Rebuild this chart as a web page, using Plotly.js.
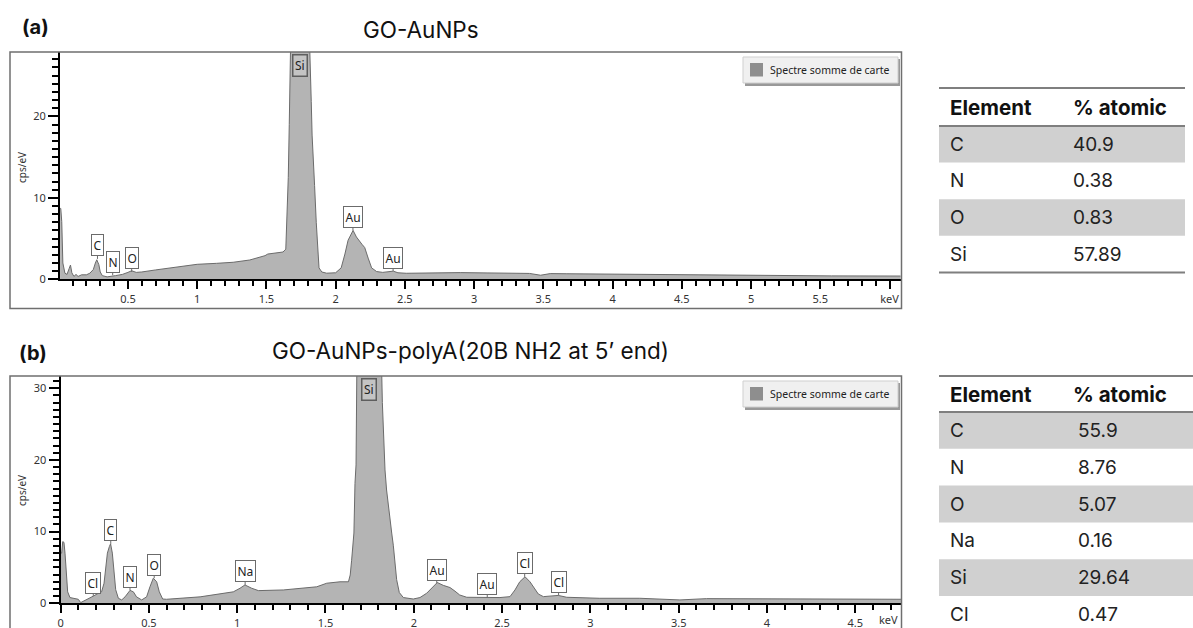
<!DOCTYPE html>
<html>
<head>
<meta charset="utf-8">
<script src="https://cdn.plot.ly/plotly-3.0.1.min.js"></script>
<style>
html,body{margin:0;padding:0;background:#fff;}
#chart{width:1193px;height:628px;}
</style>
</head>
<body>
<div id="chart"></div>
<script>
// ---------- DATA ----------
// Panel (a): GO-AuNPs spectrum (keV, cps/eV)
const energyA = [0.01,0.015,0.022,0.03,0.045,0.06,0.075,0.085,0.095,0.11,0.125,0.14,0.165,0.2,0.225,0.25,0.265,0.275,0.29,0.3,0.315,0.35,0.41,0.46,0.5,0.527,0.56,0.6,0.7,0.78,0.88,1.0,1.14,1.26,1.38,1.45,1.49,1.51,1.57,1.62,1.64,1.651,1.658,1.665,1.67,1.678,1.72,1.76,1.8,1.812,1.815,1.824,1.83,1.84,1.848,1.86,1.87,1.88,1.9,1.935,2.0,2.04,2.067,2.09,2.126,2.15,2.19,2.21,2.235,2.26,2.296,2.34,2.416,2.45,2.51,2.7,2.9,3.1,3.4,3.48,3.55,3.67,4.15,4.87,5.58,6.08];
const countsA = [8.7,8.7,7.1,2.0,0.75,0.6,1.3,1.75,0.8,0.35,0.6,0.35,0.55,0.55,0.75,1.2,2.0,2.4,1.8,0.9,0.45,0.3,0.45,0.6,0.85,1.05,0.85,0.9,1.15,1.35,1.55,1.84,1.96,2.09,2.37,2.7,2.9,3.1,3.27,3.35,3.7,8.1,12.5,19.0,21.5,32,38,40,36,30,26.7,21.8,17.7,14.8,11.5,7.0,3.4,1.4,0.9,0.75,0.8,1.4,3.1,4.8,6.0,5.2,4.3,3.9,2.6,1.4,0.95,0.85,1.0,0.8,0.74,0.8,0.82,0.78,0.72,0.5,0.7,0.68,0.6,0.5,0.42,0.4];

// Panel (b): GO-AuNPs-polyA spectrum
const energyB = [0.0,0.006,0.012,0.019,0.025,0.031,0.04,0.053,0.082,0.1,0.114,0.13,0.157,0.185,0.214,0.232,0.246,0.257,0.265,0.276,0.283,0.293,0.302,0.312,0.327,0.346,0.365,0.393,0.412,0.43,0.459,0.487,0.506,0.525,0.544,0.559,0.578,0.6,0.79,0.884,0.978,1.016,1.044,1.082,1.12,1.261,1.355,1.45,1.507,1.582,1.63,1.64,1.648,1.661,1.667,1.673,1.678,1.72,1.77,1.815,1.822,1.827,1.837,1.846,1.856,1.865,1.875,1.884,1.894,1.903,1.918,1.941,1.997,2.035,2.073,2.11,2.133,2.167,2.205,2.233,2.26,2.3,2.413,2.488,2.545,2.573,2.6,2.63,2.658,2.677,2.705,2.734,2.818,2.866,3.05,3.28,3.47,3.507,3.658,4.036,4.413,4.76];
const countsB = [7.0,7.0,8.6,8.5,7.0,4.2,1.6,0.8,0.7,0.56,0.1,0.33,0.7,1.0,1.4,1.6,2.8,5.1,7.0,7.9,8.3,7.0,4.2,1.9,0.7,0.47,0.9,1.8,1.6,0.9,0.47,0.9,2.3,3.5,3.0,1.6,0.6,0.56,0.9,1.26,1.6,2.1,2.56,2.1,1.77,1.86,2.1,2.3,2.8,3.0,3.0,3.95,6.0,9.8,16.7,19.3,34,42,44,36,28,24.7,18.6,15.8,13.5,11.9,9.8,8.1,5.6,3.3,1.5,0.8,0.6,0.8,1.4,2.3,2.9,2.5,2.2,1.7,1.16,0.84,0.84,0.8,0.93,1.86,3.0,3.7,3.0,2.3,1.3,0.93,1.1,0.84,0.7,0.7,0.56,0.47,0.65,0.65,0.56,0.56];

// Peak labels
const peakLabelsA = ["C","N","O","Au","Au"];
const peakEnergyA = [0.28,0.39,0.527,2.125,2.415];
const peakCountA  = [2.5,0.5,0.9,6.0,1.0];
const siLabelA = "Si", siEnergyA = 1.74;

const peakLabelsB = ["Cl","C","N","O","Na","Au","Au","Cl","Cl"];
const peakEnergyB = [0.185,0.284,0.393,0.53,1.045,2.13,2.416,2.628,2.82];
const peakCountB  = [1.0,8.3,1.8,3.5,2.56,2.8,0.84,3.7,1.1];
const siLabelB = "Si", siEnergyB = 1.746;

// Axis ticks
const xTickValsA = [0.5,1,1.5,2,2.5,3,3.5,4,4.5,5,5.5,6];
const xTickTextA = ["0.5","1","1.5","2","2.5","3","3.5","4","4.5","5","5.5","keV"];
const xTickValsB = [0,0.5,1,1.5,2,2.5,3,3.5,4,4.5];
const xTickTextB = ["0","0.5","1","1.5","2","2.5","3","3.5","4","4.5"];
const yTickVals = [0,10,20,30];

// Tables
const tableHeader = ["Element","% atomic"];
const tableAElements = ["C","N","O","Si"];
const tableAValues = ["40.9","0.38","0.83","57.89"];
const tableBElements = ["C","N","O","Na","Si","Cl"];
const tableBValues = ["55.9","8.76","5.07","0.16","29.64","0.47"];

const titleA = "GO-AuNPs";
const titleB = "GO-AuNPs-polyA(20B NH2 at 5\u2019 end)";
const legendName = "Spectre somme de carte";

// ---------- LAYOUT HELPERS ----------
const W = 1193, H = 628;
const X = p => p / W;
const Y = p => 1 - p / H;
const FONT = "Noto Sans, DejaVu Sans, sans-serif";
const TFONT = "Inter, Noto Sans, sans-serif";
const lineC = "#6b6b6b";

const traces = [
  {x: energyA, y: countsA, type: "scatter", mode: "lines", fill: "tozeroy",
   fillcolor: "#b4b4b4", line: {color: lineC, width: 1}, xaxis: "x", yaxis: "y",
   name: legendName, showlegend: false, hoverinfo: "skip"},
  {x: energyB, y: countsB, type: "scatter", mode: "lines", fill: "tozeroy",
   fillcolor: "#b4b4b4", line: {color: lineC, width: 1}, xaxis: "x2", yaxis: "y2",
   name: legendName, showlegend: false, hoverinfo: "skip"}
];

function xAxis(dom, range, tv, tt, anchor) {
  return {domain: dom, range: range, anchor: anchor, tickmode: "array", tickvals: tv, ticktext: tt,
    ticks: "outside", ticklen: 8, tickwidth: 2, tickcolor: "#000",
    showline: true, linecolor: "#000", linewidth: 2, showgrid: false, zeroline: false,
    tickfont: {family: FONT, size: 11, color: "#333"}, automargin: false, fixedrange: true,
    minor: {tickmode: "linear", tick0: 0, dtick: 0.1, ticks: "outside", ticklen: 5, tickwidth: 2, tickcolor: "#000", showgrid: false}};
}
function yAxis(dom, range, anchor) {
  return {domain: dom, range: range, anchor: anchor, tickmode: "array", tickvals: yTickVals,
    ticks: "outside", ticklen: 10, tickwidth: 2, tickcolor: "#000",
    showline: true, linecolor: "#000", linewidth: 2, showgrid: false, zeroline: false,
    tickfont: {family: FONT, size: 11, color: "#333"}, automargin: false, fixedrange: true,
    minor: {tickmode: "linear", tick0: 0, dtick: 1, ticks: "outside", ticklen: 6, tickwidth: 2, tickcolor: "#000", showgrid: false}};
}

const shapes = [];
const annotations = [];

// frames
shapes.push({type: "rect", xref: "paper", yref: "paper", x0: X(10), x1: X(901.5), y0: Y(52), y1: Y(308.5), line: {color: "#6f6f6f", width: 1.5}});
shapes.push({type: "rect", xref: "paper", yref: "paper", x0: X(10), x1: X(901.5), y0: Y(376), y1: Y(640), line: {color: "#6f6f6f", width: 1.5}});

// legends
function legendBox(top) {
  shapes.push({type: "rect", xref: "paper", yref: "paper", x0: X(745), x1: X(900), y0: Y(top + 2), y1: Y(top + 29), fillcolor: "rgba(70,70,70,0.55)", line: {width: 0}});
  shapes.push({type: "rect", xref: "paper", yref: "paper", x0: X(743), x1: X(898), y0: Y(top), y1: Y(top + 26), fillcolor: "#f0f0f0", line: {color: "#cfcfcf", width: 1}});
  shapes.push({type: "rect", xref: "paper", yref: "paper", x0: X(750), x1: X(763), y0: Y(top + 6), y1: Y(top + 19.5), fillcolor: "#8e8e8e", line: {width: 0}});
  annotations.push({xref: "paper", yref: "paper", x: X(768), y: Y(top + 13), xanchor: "left", yanchor: "middle",
    text: legendName, showarrow: false, font: {family: FONT, size: 10.5, color: "#222"}});
}
legendBox(57);
legendBox(381);

// peak labels
function peakLabels(labels, es, vs, xa, ya) {
  labels.forEach((t, i) => {
    annotations.push({xref: xa, yref: ya, x: es[i], y: vs[i], text: t, showarrow: true,
      arrowhead: 0, arrowwidth: 1, arrowcolor: lineC, ax: 0, ay: -13.5,
      bgcolor: "#fff", bordercolor: lineC, borderwidth: 1, borderpad: 1.5,
      font: {family: FONT, size: 12, color: "#222"}});
  });
}
peakLabels(peakLabelsA, peakEnergyA, peakCountA, "x", "y");
peakLabels(peakLabelsB, peakEnergyB, peakCountB, "x2", "y2");
annotations.push({xref: "x", yref: "paper", x: siEnergyA, y: Y(54), yanchor: "top", text: siLabelA, showarrow: false,
  bgcolor: "#c4c4c4", bordercolor: "#5e5e5e", borderwidth: 1.5, borderpad: 1.5, font: {family: FONT, size: 12, color: "#222"}});
annotations.push({xref: "x2", yref: "paper", x: siEnergyB, y: Y(378), yanchor: "top", text: siLabelB, showarrow: false,
  bgcolor: "#c4c4c4", bordercolor: "#5e5e5e", borderwidth: 1.5, borderpad: 1.5, font: {family: FONT, size: 12, color: "#222"}});

// keV label for panel b
annotations.push({xref: "paper", yref: "paper", x: X(888), y: Y(619), xanchor: "center", yanchor: "middle", text: "keV", showarrow: false,
  font: {family: FONT, size: 11, color: "#333"}});

// y-axis titles
[[167], [490]].forEach(([cy]) => {
  annotations.push({xref: "paper", yref: "paper", x: X(22), y: Y(cy), text: "cps/eV", textangle: -90, showarrow: false,
    xanchor: "center", yanchor: "middle", font: {family: FONT, size: 10, color: "#333"}});
});

// panel titles
annotations.push({xref: "paper", yref: "paper", x: X(20), y: Y(27), xanchor: "left", yanchor: "middle", text: "<b>(a)</b>", showarrow: false, font: {family: TFONT, size: 20, color: "#111"}});
annotations.push({xref: "paper", yref: "paper", x: X(17), y: Y(353), xanchor: "left", yanchor: "middle", text: "<b>(b)</b>", showarrow: false, font: {family: TFONT, size: 20, color: "#111"}});
annotations.push({xref: "paper", yref: "paper", x: X(420.5), y: Y(29), xanchor: "center", yanchor: "middle", text: titleA, showarrow: false, font: {family: TFONT, size: 22.5, color: "#111"}});
annotations.push({xref: "paper", yref: "paper", x: X(470.5), y: Y(350), xanchor: "center", yanchor: "middle", text: titleB, showarrow: false, font: {family: TFONT, size: 22.5, color: "#111"}});

// tables
function table(topY, headerLineY, rowH, xr, els, vals, valX) {
  const x0 = 939;
  shapes.push({type: "line", xref: "paper", yref: "paper", x0: X(x0), x1: X(xr), y0: Y(topY), y1: Y(topY), line: {color: "#7f7f7f", width: 2}});
  const hy = (topY + headerLineY) / 2;
  annotations.push({xref: "paper", yref: "paper", x: X(948), y: Y(hy), xanchor: "left", yanchor: "middle", text: "<b>" + tableHeader[0] + "</b>", showarrow: false, font: {family: TFONT, size: 20.5, color: "#111"}});
  annotations.push({xref: "paper", yref: "paper", x: X(1071), y: Y(hy), xanchor: "left", yanchor: "middle", text: "<b>" + tableHeader[1] + "</b>", showarrow: false, font: {family: TFONT, size: 20.5, color: "#111"}});
  els.forEach((e, i) => {
    const r0 = headerLineY + i * rowH, r1 = r0 + rowH;
    if (i % 2 === 0) shapes.push({type: "rect", xref: "paper", yref: "paper", x0: X(x0), x1: X(xr), y0: Y(r0), y1: Y(r1), fillcolor: "#d0d0d0", line: {width: 0}, layer: "below"});
    const cy = (r0 + r1) / 2;
    annotations.push({xref: "paper", yref: "paper", x: X(948), y: Y(cy), xanchor: "left", yanchor: "middle", text: e, showarrow: false, font: {family: TFONT, size: 19, color: "#222"}});
    annotations.push({xref: "paper", yref: "paper", x: X(valX), y: Y(cy), xanchor: "left", yanchor: "middle", text: vals[i], showarrow: false, font: {family: TFONT, size: 19, color: "#222"}});
  });
  shapes.push({type: "line", xref: "paper", yref: "paper", x0: X(x0), x1: X(xr), y0: Y(headerLineY), y1: Y(headerLineY), line: {color: "#7f7f7f", width: 2}});
  return headerLineY + els.length * rowH;
}
const endA = table(88, 126, 36.6, 1185, tableAElements, tableAValues, 1071);
shapes.push({type: "line", xref: "paper", yref: "paper", x0: X(939), x1: X(1185), y0: Y(endA), y1: Y(endA), line: {color: "#7f7f7f", width: 2}});
table(376, 412, 36.8, 1193, tableBElements, tableBValues, 1076);

const layout = {
  width: W, height: H, margin: {l: 0, r: 0, t: 0, b: 0},
  paper_bgcolor: "#fff", plot_bgcolor: "#fff", showlegend: false,
  xaxis: xAxis([X(60), X(901)], [0.0094, 6.083], xTickValsA, xTickTextA, "y"),
  yaxis: yAxis([Y(279.3), Y(52)], [0, 27.9], "x"),
  xaxis2: xAxis([X(60.6), X(901)], [0, 4.759], xTickValsB, xTickTextB, "y2"),
  yaxis2: yAxis([Y(603.3), Y(376)], [0, 31.7], "x2"),
  shapes: shapes, annotations: annotations
};

Plotly.newPlot("chart", traces, layout, {displayModeBar: false, staticPlot: true});
</script>
</body>
</html>
